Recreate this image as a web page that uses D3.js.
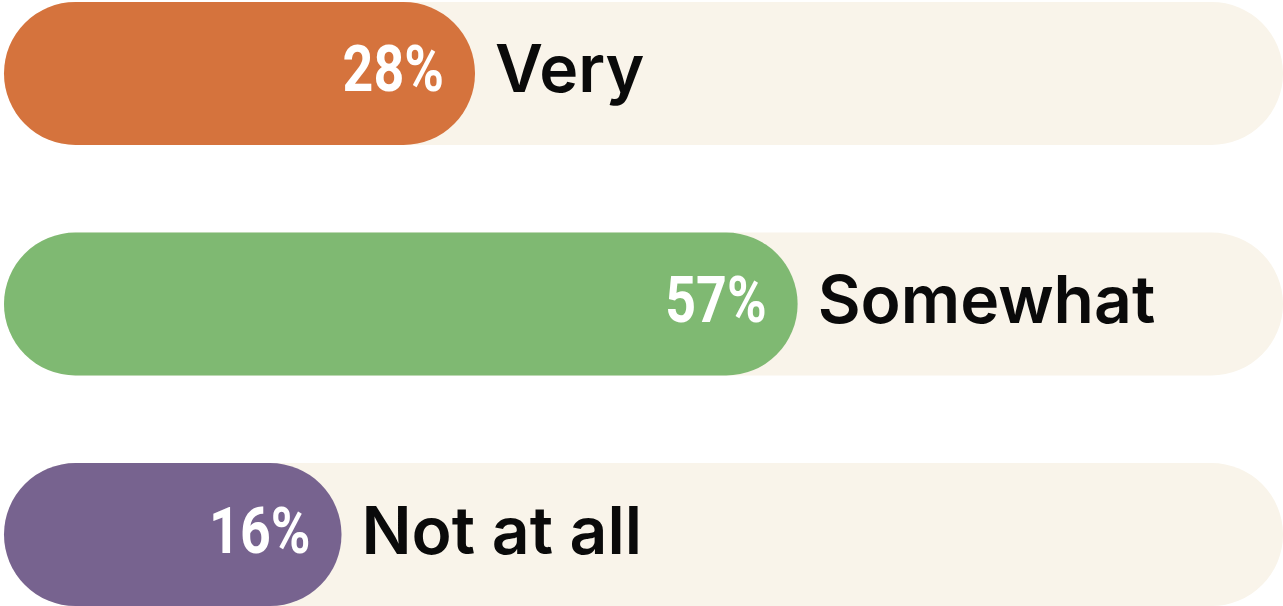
<!DOCTYPE html>
<html>
<head>
  <meta charset="utf-8">
  <style>
  body { margin:0; padding:0; background:#fff; }
  svg { display:block; }
  .val { font-family:Roboto, 'DejaVu Sans Condensed', sans-serif; font-weight:700; fill:#fff; }
  .lab { font-family:Inter, 'Noto Sans', sans-serif; font-weight:600; fill:#0a0a0a; }
  </style>
  <script src="https://cdn.jsdelivr.net/npm/d3@7"></script>
</head>
<body>
<div id="chart"></div>
<script>
var categories = ['Very', 'Somewhat', 'Not at all'];
var values = [28, 57, 16];
var colors = ['#d5733d', '#7fb972', '#77638f'];

var W = 1283, H = 606;
var left = 4, right = 1283;

var svg = d3.select('#chart').append('svg')
  .attr('width', W).attr('height', H);

// bars start with a minimum width so the label fits
var x = d3.scaleLinear().domain([0, 100]).range([163.5, 1276]);
var y = d3.scaleBand().domain(categories).range([2, 606]).paddingInner(0.38);

var rows = svg.selectAll('g.row')
  .data(categories)
  .enter().append('g')
  .attr('class', 'row')
  .attr('transform', function(d) { return 'translate(0,' + y(d) + ')'; });

var bh = y.bandwidth();

rows.append('rect')
  .attr('x', left).attr('y', 0)
  .attr('width', right - left).attr('height', bh)
  .attr('rx', bh / 2).attr('ry', bh / 2)
  .attr('fill', '#f9f4ea');

rows.append('rect')
  .attr('x', left).attr('y', 0)
  .attr('width', function(d, i) { return x(values[i]) - left; })
  .attr('height', bh)
  .attr('rx', bh / 2).attr('ry', bh / 2)
  .attr('fill', function(d, i) { return colors[i]; });

// condensed look: squeeze the bold digits horizontally
rows.append('text')
  .attr('class', 'val')
  .attr('transform', function(d, i) {
    return 'translate(' + (x(values[i]) - 31) + ',' + (bh / 2 + 18) + ') scale(0.84,1)';
  })
  .attr('text-anchor', 'end')
  .style('font-size', '64px')
  .text(function(d, i) { return values[i] + '%'; });

rows.append('text')
  .attr('class', 'lab')
  .attr('x', function(d, i) { return x(values[i]) + 20; })
  .attr('y', bh / 2 + 19)
  .style('font-size', '66px')
  .text(function(d) { return d; });
</script>
</body>
</html>
